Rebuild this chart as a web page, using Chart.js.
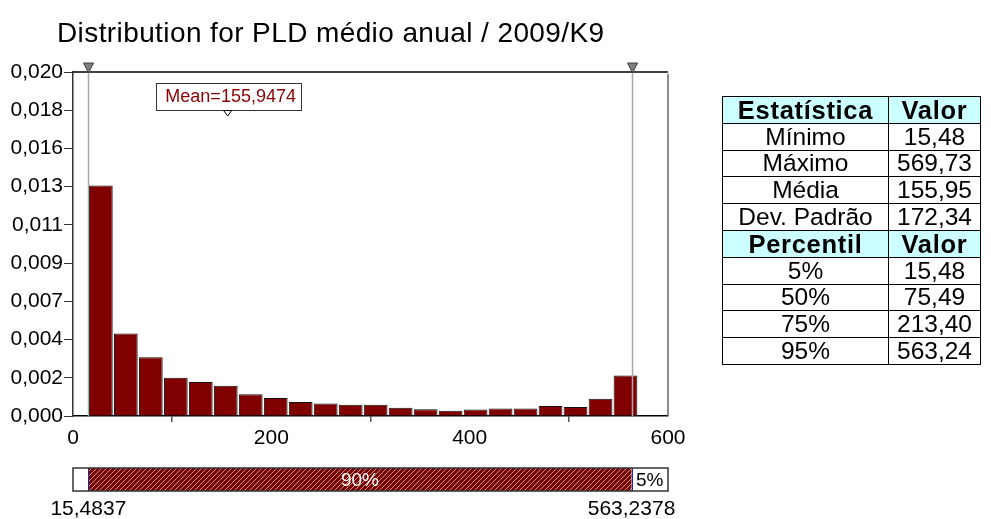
<!DOCTYPE html>
<html><head><meta charset="utf-8">
<script src="https://cdn.jsdelivr.net/npm/chart.js@4.4.1/dist/chart.umd.min.js"></script>
<style>
html,body{margin:0;padding:0;background:#fff;width:991px;height:519px;overflow:hidden;font-family:Arial,"Liberation Sans",sans-serif;}
#wrap{position:relative;width:991px;height:519px;}
#c{position:absolute;left:0;top:0;}
#title{position:absolute;left:57px;top:17px;font-size:28px;letter-spacing:0.4px;white-space:nowrap;color:#000;line-height:32px;}
#tbl{position:absolute;left:722px;top:96px;border-collapse:collapse;font-size:24.5px;color:#000;}
#tbl td{border:1.5px solid #000;height:26.8px;padding:0;text-align:center;line-height:24px;box-sizing:border-box;}
#tbl td.n{width:166px;}
#tbl td.v{width:92px;}
#tbl tr.h td{background:#ccffff;font-weight:bold;font-size:25.5px;letter-spacing:0.7px;}
</style>
</head><body>
<div id="wrap">
<canvas id="c" width="991" height="519"></canvas>
<div id="title"></div>
<table id="tbl"></table>
</div>
<script>
// ---- data ----
const titleText = 'Distribution for PLD médio anual / 2009/K9';
const binCenters = [28.08, 53.27, 78.46, 103.66, 128.85, 154.04, 179.24, 204.43, 229.62, 254.82, 280.01,
                    305.20, 330.40, 355.59, 380.78, 405.97, 431.17, 456.36, 481.55, 506.75, 531.94, 557.13];
const density = [0.01340, 0.00480, 0.00341, 0.00223, 0.00197, 0.00176, 0.00126, 0.00105, 0.00081, 0.00072, 0.00066,
                 0.00066, 0.00048, 0.00039, 0.00031, 0.00038, 0.00044, 0.00044, 0.00058, 0.00052, 0.00100, 0.00236];
const yMax = 0.020;
const yTickLabels = ['0,000','0,002','0,004','0,007','0,009','0,011','0,013','0,016','0,018','0,020'];
const xTickValues = [0, 200, 400, 600];
const meanValue = 155.9474;
const meanLabel = 'Mean=155,9474';
const markerValues = [15.4837, 563.2378];
const markerLabels = ['15,4837', '563,2378'];
const bandLabels = ['90%', '5%'];
const statHeader = ['Estatística', 'Valor'];
const statNames = ['Mínimo', 'Máximo', 'Média', 'Dev. Padrão'];
const statValues = ['15,48', '569,73', '155,95', '172,34'];
const pctHeader = ['Percentil', 'Valor'];
const pctNames = ['5%', '50%', '75%', '95%'];
const pctValues = ['15,48', '75,49', '213,40', '563,24'];

// ---- title & table ----
document.getElementById('title').textContent = titleText;
const tbl = document.getElementById('tbl');
function addRow(a, b, head) {
  const tr = document.createElement('tr');
  if (head) tr.className = 'h';
  const t1 = document.createElement('td'); t1.className = 'n'; t1.textContent = a;
  const t2 = document.createElement('td'); t2.className = 'v'; t2.textContent = b;
  tr.appendChild(t1); tr.appendChild(t2); tbl.appendChild(tr);
}
addRow(statHeader[0], statHeader[1], true);
statNames.forEach((n, i) => addRow(n, statValues[i]));
addRow(pctHeader[0], pctHeader[1], true);
pctNames.forEach((n, i) => addRow(n, pctValues[i]));

// ---- chart ----
const FONT = 'Arial, "Liberation Sans", sans-serif';
Chart.defaults.font.family = FONT;
const yTickValues = yTickLabels.map((_, i) => i * yMax / (yTickLabels.length - 1));

function hatch(ctx) {
  const p = document.createElement('canvas');
  p.width = 5; p.height = 5;
  const g = p.getContext('2d');
  g.fillStyle = '#7a0000'; g.fillRect(0, 0, 5, 5);
  g.strokeStyle = '#c09898'; g.lineWidth = 1;
  g.beginPath(); g.moveTo(-1, 6); g.lineTo(6, -1); g.stroke();
  return ctx.createPattern(p, 'repeat');
}

const overlay = {
  id: 'overlay',
  afterDraw(chart) {
    const ctx = chart.ctx, a = chart.chartArea, xs = chart.scales.x;
    ctx.save();
    // frame top & right
    ctx.strokeStyle = '#000'; ctx.lineWidth = 1.5;
    ctx.beginPath(); ctx.moveTo(a.left, a.top); ctx.lineTo(a.right, a.top); ctx.stroke();
    ctx.strokeStyle = '#666'; ctx.lineWidth = 1.5;
    ctx.beginPath(); ctx.moveTo(a.right, a.top + 2); ctx.lineTo(a.right, a.bottom); ctx.stroke();
    // marker lines + triangles
    markerValues.forEach(v => {
      const px = Math.round(xs.getPixelForValue(v)) + 0.5;
      ctx.strokeStyle = '#aaaaaa'; ctx.lineWidth = 1.5;
      ctx.beginPath(); ctx.moveTo(px, a.top); ctx.lineTo(px, a.bottom); ctx.stroke();
      ctx.fillStyle = '#808080'; ctx.strokeStyle = '#404040'; ctx.lineWidth = 1;
      ctx.beginPath(); ctx.moveTo(px - 5, a.top - 9); ctx.lineTo(px + 5, a.top - 9); ctx.lineTo(px, a.top + 1); ctx.closePath();
      ctx.fill(); ctx.stroke();
    });
    // mean label
    const mx = xs.getPixelForValue(meanValue);
    ctx.font = '18px ' + FONT;
    const bw = 145, bh = 27, by = a.top + 11;
    ctx.fillStyle = '#fff'; ctx.fillRect(mx - bw / 2, by, bw, bh);
    ctx.strokeStyle = '#333'; ctx.lineWidth = 1;
    ctx.strokeRect(Math.round(mx - bw / 2) + 1.5, by + 0.5, bw, bh);
    ctx.fillStyle = '#8b0000'; ctx.textAlign = 'center'; ctx.textBaseline = 'middle';
    ctx.fillText(meanLabel, mx + 3, by + bh / 2 + 1);
    ctx.fillStyle = '#fff'; ctx.strokeStyle = '#000';
    ctx.beginPath(); ctx.moveTo(mx - 4, by + bh + 0.5); ctx.lineTo(mx + 4, by + bh + 0.5); ctx.lineTo(mx, by + bh + 6); ctx.closePath();
    ctx.fill(); ctx.stroke();
    // bottom bar
    const x0 = xs.getPixelForValue(xs.min), x3 = xs.getPixelForValue(xs.max);
    const x1 = xs.getPixelForValue(markerValues[0]), x2 = xs.getPixelForValue(markerValues[1]);
    const top = 468, h = 23;
    ctx.fillStyle = '#fff'; ctx.fillRect(x0, top, x3 - x0, h);
    ctx.fillStyle = hatch(ctx); ctx.fillRect(x1, top, x2 - x1, h);
    ctx.strokeStyle = '#2222aa'; ctx.lineWidth = 1;
    [x1, x2].forEach(x => { ctx.beginPath(); ctx.moveTo(Math.round(x) + 0.5, top); ctx.lineTo(Math.round(x) + 0.5, top + h); ctx.stroke(); });
    ctx.strokeStyle = '#333'; ctx.lineWidth = 1.5;
    ctx.strokeRect(x0, top, x3 - x0, h);
    ctx.font = '19px ' + FONT; ctx.textBaseline = 'middle'; ctx.textAlign = 'center';
    ctx.fillStyle = '#fff'; ctx.fillText(bandLabels[0], (x1 + x2) / 2, top + h / 2 + 1);
    ctx.fillStyle = '#000'; ctx.fillText(bandLabels[1], (x2 + x3) / 2, top + h / 2 + 1);
    ctx.font = '21px ' + FONT; ctx.textBaseline = 'alphabetic';
    ctx.fillText(markerLabels[0], x1, 515);
    ctx.fillText(markerLabels[1], x2, 515);
    ctx.restore();
  }
};

new Chart(document.getElementById('c'), {
  type: 'bar',
  data: { datasets: [{
    data: binCenters.map((x, i) => ({ x: x, y: density[i] })),
    backgroundColor: '#800000', borderColor: '#111', borderWidth: 1,
    barPercentage: 1, categoryPercentage: 0.95
  }]},
  options: {
    responsive: false, animation: false, devicePixelRatio: 1,
    layout: { padding: { left: 0, top: 72, right: 323, bottom: 73 } },
    plugins: { legend: { display: false }, tooltip: { enabled: false }, title: { display: false } },
    scales: {
      x: {
        type: 'linear', min: 0, max: 600, offset: false,
        afterBuildTicks(s) { s.ticks = xTickValues.map(v => ({ value: v })); },
        ticks: { font: { size: 21 }, color: '#000', padding: 4, maxRotation: 0 },
        grid: { display: true, drawOnChartArea: false, drawTicks: true, tickLength: 6, color: '#555', lineWidth: 1.5 },
        border: { display: true, color: '#000', width: 1.5 },
        afterFit(s) { s.height = 30; }
      },
      y: {
        min: 0, max: yMax,
        afterBuildTicks(s) { s.ticks = yTickValues.map(v => ({ value: v })); },
        ticks: { callback: (v, i) => yTickLabels[i], font: { size: 21 }, color: '#000', padding: 1 },
        grid: { display: true, drawOnChartArea: false, drawTicks: true, tickLength: 9, color: '#333', lineWidth: 1 },
        border: { display: true, color: '#333', width: 1.5 },
        afterFit(s) { s.width = 73; }
      }
    }
  },
  plugins: [overlay]
});
</script>
</body></html>
